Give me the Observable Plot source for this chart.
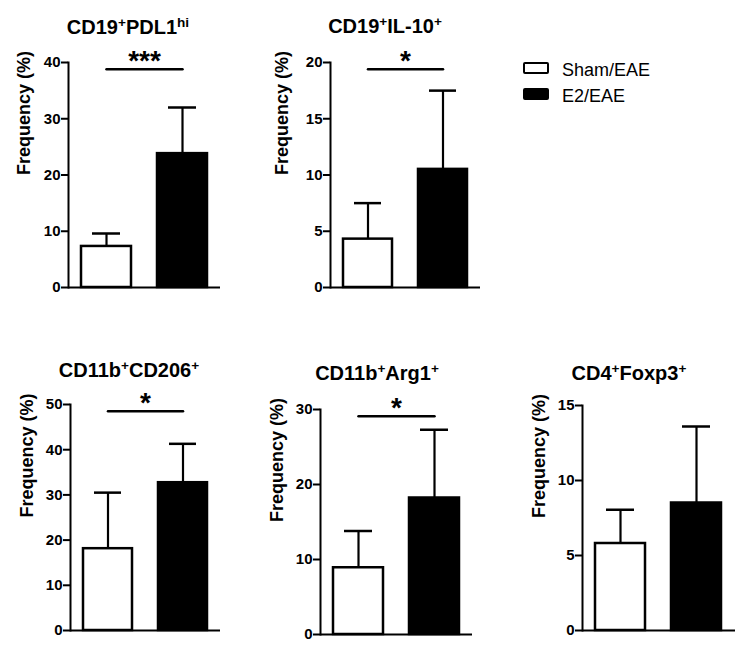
<!DOCTYPE html>
<html>
<head>
<meta charset="utf-8">
<script src="https://cdn.jsdelivr.net/npm/d3@7"></script>
<script src="https://cdn.jsdelivr.net/npm/@observablehq/plot@0.6"></script>
<style>
  body { margin: 0; background: #fff; }
  #fig { position: relative; width: 751px; height: 656px; font-family: "Liberation Sans", Arial, sans-serif; color: #000; }
  .panel { position: absolute; }
  .panel svg { overflow: visible; }
  .title { position: absolute; width: 240px; text-align: center; font-weight: bold; font-size: 20px; line-height: 20px; white-space: nowrap; }
  .title sup { font-size: 0.68em; line-height: 0; vertical-align: 0.55em; }
  .leg-box { position: absolute; width: 22px; height: 8px; border: 2.5px solid #000; border-radius: 2px; }
  .leg-text { position: absolute; font-size: 18px; line-height: 18px; white-space: nowrap; }
</style>
</head>
<body>
<div id="fig"></div>
<script>
// ---- data ----
const groups = ["Sham/EAE", "E2/EAE"];
const titleParts = [
  [["CD19", "+"], ["PDL1", "hi"]],
  [["CD19", "+"], ["IL-10", "+"]],
  [["CD11b", "+"], ["CD206", "+"]],
  [["CD11b", "+"], ["Arg1", "+"]],
  [["CD4", "+"], ["Foxp3", "+"]]
];
const shamMean = [7.3, 4.3, 18.1, 8.9, 5.8];
const shamSD   = [2.3, 3.2, 12.4, 4.9, 2.25];
const e2Mean   = [23.8, 10.5, 32.7, 18.2, 8.5];
const e2SD     = [8.2, 7.0, 8.6, 9.1, 5.1];
const yMax     = [40, 20, 50, 30, 15];
const yTicks   = [[0, 10, 20, 30, 40], [0, 5, 10, 15, 20], [0, 10, 20, 30, 40, 50], [0, 10, 20, 30], [0, 5, 10, 15]];
const stars    = ["***", "*", "*", "*", ""];
const sigY     = [38.8, 19.4, 48.5, 29.1, null];
const yLabel   = "Frequency (%)";

// ---- layout (pixels) ----
const layout = [
  {left: 0,   top: 40,  width: 240, height: 260, ml: 68, mr: 20, mt: 22, mb: 13, ldx: -44, tx: 128, tb: 34},
  {left: 250, top: 40,  width: 240, height: 260, ml: 80, mr: 10, mt: 22, mb: 13, ldx: -48, tx: 385, tb: 33},
  {left: 0,   top: 385, width: 240, height: 260, ml: 70, mr: 20, mt: 19, mb: 15, ldx: -43, tx: 129, tb: 377},
  {left: 250, top: 385, width: 240, height: 260, ml: 70, mr: 18, mt: 24, mb: 11, ldx: -43, tx: 377, tb: 380},
  {left: 500, top: 385, width: 251, height: 260, ml: 82, mr: 16, mt: 20, mb: 15, ldx: -43, tx: 629, tb: 380}
];

const fig = document.getElementById("fig");
const fills = ["white", "black"];

layout.forEach((L, i) => {
  const rows = groups.map((g, j) => ({
    group: g,
    mean: [shamMean, e2Mean][j][i],
    sd: [shamSD, e2SD][j][i]
  }));
  const marks = [
    Plot.barY(rows, {x: "group", y: "mean", fill: (d) => fills[groups.indexOf(d.group)], stroke: "black", strokeWidth: 2.5}),
    Plot.ruleX(rows, {x: "group", y1: "mean", y2: (d) => d.mean + d.sd, stroke: "black", strokeWidth: 2.2}),
    Plot.tickY(rows, {x: "group", y: (d) => d.mean + d.sd, stroke: "black", strokeWidth: 2.5, insetLeft: 11, insetRight: 11}),
    Plot.ruleY([0], {stroke: "black", strokeWidth: 2}),
    Plot.frame({anchor: "left", stroke: "black", strokeWidth: 2}),
    Plot.axisY({ticks: yTicks[i], tickSize: 7, tickPadding: 1, text: null, label: null, strokeWidth: 2}),
    Plot.text(yTicks[i], {y: (d) => d, text: (d) => String(d), frameAnchor: "left", textAnchor: "end", dx: -8, fontSize: 15, fontWeight: "bold", fill: "black"}),
    Plot.text([yLabel], {frameAnchor: "left", rotate: -90, dx: L.ldx, fontSize: 18, fontWeight: "bold", fill: "black"})
  ];
  if (stars[i]) {
    marks.push(
      Plot.line(groups.map((g) => ({group: g, y: sigY[i]})), {x: "group", y: "y", stroke: "black", strokeWidth: 2.5}),
      Plot.text([stars[i]], {y: () => sigY[i], text: (d) => d, fontSize: 28, fontWeight: "bold", dy: -8, fill: "black"})
    );
  }
  const chart = Plot.plot({
    width: L.width,
    height: L.height,
    marginLeft: L.ml,
    marginRight: L.mr,
    marginTop: L.mt,
    marginBottom: L.mb,
    style: {fontFamily: "'Liberation Sans', Arial, sans-serif", color: "black", background: "transparent"},
    x: {domain: groups, paddingInner: 0.34, paddingOuter: 0.17, axis: null},
    y: {domain: [0, yMax[i]], axis: null},
    marks
  });
  const wrap = document.createElement("div");
  wrap.className = "panel";
  wrap.style.left = L.left + "px";
  wrap.style.top = L.top + "px";
  wrap.appendChild(chart);
  fig.appendChild(wrap);

  const t = document.createElement("div");
  t.className = "title";
  t.style.left = (L.tx - 120) + "px";
  t.style.top = (L.tb - 17) + "px";
  titleParts[i].forEach(([base, sup]) => {
    t.appendChild(document.createTextNode(base));
    const s = document.createElement("sup");
    s.textContent = sup;
    t.appendChild(s);
  });
  fig.appendChild(t);
});

// legend
const legTop = [62, 88];
const legBase = [76, 101.5];
groups.forEach((g, j) => {
  const b = document.createElement("div");
  b.className = "leg-box";
  b.style.left = "523px";
  b.style.top = legTop[j] + "px";
  b.style.background = fills[j];
  fig.appendChild(b);
  const tx = document.createElement("div");
  tx.className = "leg-text";
  tx.style.left = "562px";
  tx.style.top = (legBase[j] - 15) + "px";
  tx.textContent = g;
  fig.appendChild(tx);
});
</script>
</body>
</html>
